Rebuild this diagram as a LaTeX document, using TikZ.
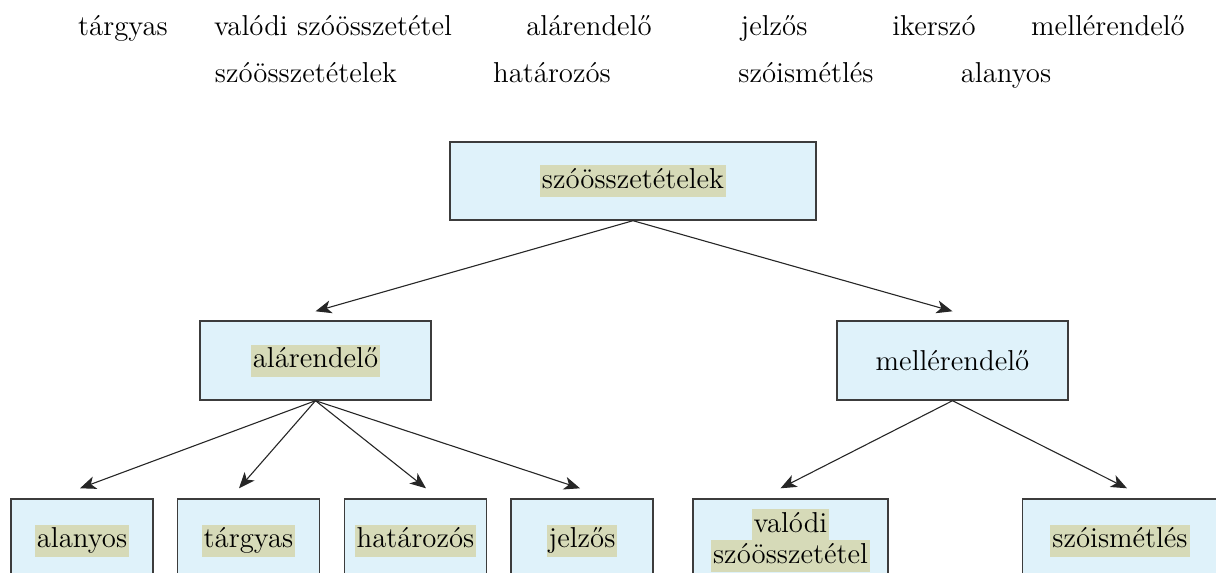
\documentclass[tikz,border=0pt]{standalone}
\usetikzlibrary{arrows.meta}

\definecolor{dobozkek}{HTML}{DFF2FA}
\definecolor{kiemszin}{HTML}{D6DAB8}
\definecolor{keret}{HTML}{3C3C3C}
\newcommand{\kiem}[1]{{\setlength{\fboxsep}{1pt}\colorbox{kiemszin}{\rule[-3.5pt]{0pt}{14pt}#1}}}

\begin{document}
\begin{tikzpicture}[x=0.5pt, y=-0.5pt,
    doboz/.style={draw=keret, line width=0.7pt, fill=dobozkek, inner sep=0pt,
        align=center, font=\fontsize{14.4}{16.5}\selectfont},
    szo/.style={anchor=base, inner sep=0pt, font=\fontsize{14.4}{17}\selectfont},
    nyil/.style={-{Stealth[length=8pt,width=6.5pt,inset=2.2pt]}, line width=0.55pt, draw=black!85}]
    \useasboundingbox (0,0) rectangle (1216,573);

    % szavak felul
    \node[szo] (sz1) at (123,35) {tárgyas};
    \node[szo] (sz2) at (333,35) {valódi szóösszetétel};
    \node[szo] (sz3) at (589,35) {alárendelő};
    \node[szo] (sz4) at (774,35) {jelzős};
    \node[szo] (sz5) at (934,35) {ikerszó};
    \node[szo] (sz6) at (1108,35) {mellérendelő};
    \node[szo] (sz7) at (306,83) {szóösszetételek};
    \node[szo] (sz8) at (552,83) {határozós};
    \node[szo] (sz9) at (806,83) {szóismétlés};
    \node[szo] (sz10) at (1006,83) {alanyos};

    % fa
    \node[doboz, minimum width=183pt, minimum height=39pt] (gyoker) at (633,181) {\kiem{szóösszetételek}};
    \node[doboz, minimum width=115.5pt, minimum height=39.5pt] (alar) at (315.5,360.5) {\kiem{alárendelő}};
    \node[doboz, minimum width=115.5pt, minimum height=39.5pt] (meller) at (952.5,360.5) {mellérendelő};

    \node[doboz, minimum width=71pt, minimum height=41.5pt] (alanyos) at (82,540.5) {\kiem{alanyos}};
    \node[doboz, minimum width=71pt, minimum height=41.5pt] (targyas) at (248.5,540.5) {\kiem{tárgyas}};
    \node[doboz, minimum width=71pt, minimum height=41.5pt] (hatarozos) at (415.5,540.5) {\kiem{határozós}};
    \node[doboz, minimum width=71pt, minimum height=41.5pt] (jelzos) at (582,540.5) {\kiem{jelzős}};
    \node[doboz, minimum width=97.5pt, minimum height=41.5pt] (valodi) at (790.5,540.5) {\kiem{valódi}\\[-1pt]\kiem{szóösszetétel}};
    \node[doboz, minimum width=97.5pt, minimum height=41.5pt] (ismetles) at (1120,540.5) {\kiem{szóismétlés}};

    % nyilak
    \draw[nyil] (gyoker.south) -- ([yshift=4.5pt]alar.north);
    \draw[nyil] (gyoker.south) -- ([yshift=4.5pt]meller.north);
    \draw[nyil] (alar.south) -- ([xshift=-1pt,yshift=5pt]alanyos.north);
    \draw[nyil] (alar.south) -- ([xshift=-4.75pt,yshift=5pt]targyas.north);
    \draw[nyil] (alar.south) -- ([xshift=5.25pt,yshift=5pt]hatarozos.north);
    \draw[nyil] (alar.south) -- ([xshift=-1pt,yshift=5pt]jelzos.north);
    \draw[nyil] (meller.south) -- ([xshift=-5pt,yshift=5pt]valodi.north);
    \draw[nyil] (meller.south) -- ([xshift=3.5pt,yshift=5pt]ismetles.north);
\end{tikzpicture}
\end{document}
